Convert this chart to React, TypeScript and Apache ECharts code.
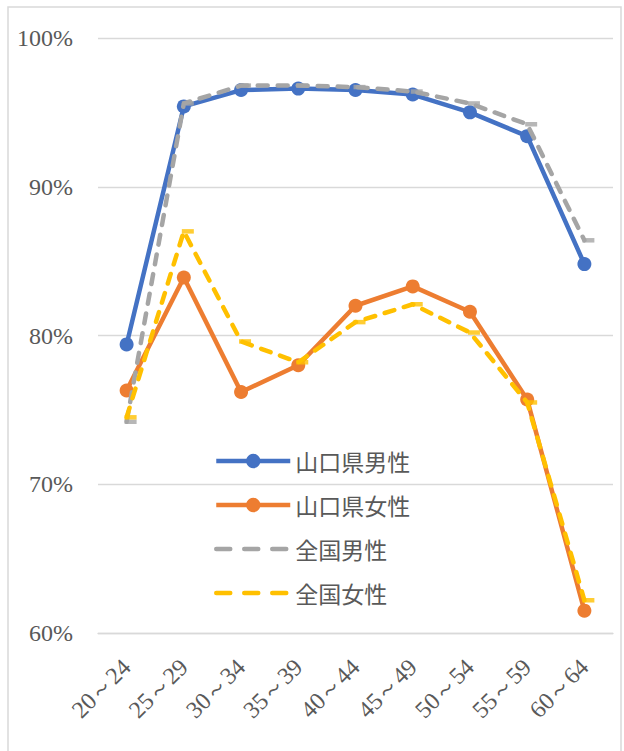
import React, { useEffect, useRef } from "react";
import * as echarts from "echarts";

const categories = ["20～24", "25～29", "30～34", "35～39", "40～44", "45～49", "50～54", "55～59", "60～64"];
const yamaguchiMale = [79.4, 95.4, 96.5, 96.6, 96.5, 96.2, 95.0, 93.4, 84.8];
const yamaguchiFemale = [76.3, 83.9, 76.2, 78.0, 82.0, 83.3, 81.6, 75.7, 61.5];
const nationalMale = [74.2, 95.6, 96.8, 96.8, 96.7, 96.4, 95.6, 94.2, 86.4];
const nationalFemale = [74.5, 87.0, 79.6, 78.2, 80.9, 82.1, 80.2, 75.5, 62.2];
const seriesNames = ["山口県男性", "山口県女性", "全国男性", "全国女性"];
const seriesColors = ["#4472C4", "#ED7D31", "#A5A5A5", "#FFC000"];
const yTicks = { min: 60, max: 100, interval: 10 };

export default function App() {
  const ref = useRef<HTMLDivElement>(null);
  useEffect(() => {
    if (!ref.current) return;
    const chart = echarts.init(ref.current, null, { renderer: "svg" });
    const gray = "#595959";
    const serif = "Liberation Serif";
    const dash = [10, 10];
    const solid = (i: number, data: number[]) => ({
      name: seriesNames[i],
      type: "line",
      data,
      symbol: "circle",
      symbolSize: 14,
      itemStyle: { color: seriesColors[i] },
      lineStyle: { color: seriesColors[i], width: 4.5 },
      z: 2,
    });
    const dashed = (i: number, data: number[]) => ({
      name: seriesNames[i],
      type: "line",
      data,
      symbol: "none",
      itemStyle: { color: seriesColors[i] },
      lineStyle: { color: seriesColors[i], width: 4.5, type: dash, cap: "round" },
      z: 3,
    });
    const marks = (i: number, data: number[]) => ({
      name: seriesNames[i] + "_m",
      type: "scatter",
      data,
      symbol: "rect",
      symbolSize: [12, 4.5],
      symbolOffset: [4, 0],
      itemStyle: { color: seriesColors[i] },
      z: 4,
      silent: true,
    });
    const legendData = seriesNames.map((name, i) =>
      i < 2
        ? {
            name,
            itemStyle: { color: seriesColors[i] },
            lineStyle: { color: seriesColors[i], width: 4.5 },
          }
        : {
            name,
            itemStyle: { color: seriesColors[i], opacity: 0 },
            lineStyle: { color: seriesColors[i], width: 4.5, type: [14, 14], cap: "round" },
          }
    );
    chart.setOption({
      animation: false,
      backgroundColor: "#ffffff",
      graphic: [
        {
          type: "rect",
          shape: { x: 8, y: 7, width: 613, height: 800 },
          style: { fill: "none", stroke: "#d9d9d9", lineWidth: 1.5 },
          z: -1,
        },
      ],
      grid: { left: 98, right: 11, top: 38, bottom: 118 },
      xAxis: {
        type: "category",
        data: categories,
        boundaryGap: true,
        axisLine: { show: true, lineStyle: { color: "#d9d9d9", width: 1.3 } },
        axisTick: { show: false },
        axisLabel: {
          rotate: 45,
          margin: 30,
          color: gray,
          fontFamily: serif,
          fontSize: 24,
          interval: 0,
        },
      },
      yAxis: {
        type: "value",
        min: yTicks.min,
        max: yTicks.max,
        interval: yTicks.interval,
        axisLine: { show: false },
        axisTick: { show: false },
        splitLine: { lineStyle: { color: "#d9d9d9", width: 1.3 } },
        axisLabel: {
          formatter: "{value}%",
          margin: 25,
          color: gray,
          fontFamily: serif,
          fontSize: 24,
        },
      },
      legend: {
        data: legendData,
        orient: "vertical",
        left: 209,
        top: 444,
        itemWidth: 74,
        itemHeight: 18,
        itemGap: 20,
        textStyle: {
          color: gray,
          fontFamily: "Noto Sans CJK JP",
          fontSize: 23,
          lineHeight: 24,
        },
      },
      series: [
        solid(0, yamaguchiMale),
        solid(1, yamaguchiFemale),
        dashed(2, nationalMale),
        dashed(3, nationalFemale),
        marks(2, nationalMale),
        marks(3, nationalFemale),
      ],
    });
    return () => chart.dispose();
  }, []);
  return (
    <div
      ref={ref}
      style={{ position: "absolute", left: 0, top: 0, width: 624, height: 751 }}
    />
  );
}
